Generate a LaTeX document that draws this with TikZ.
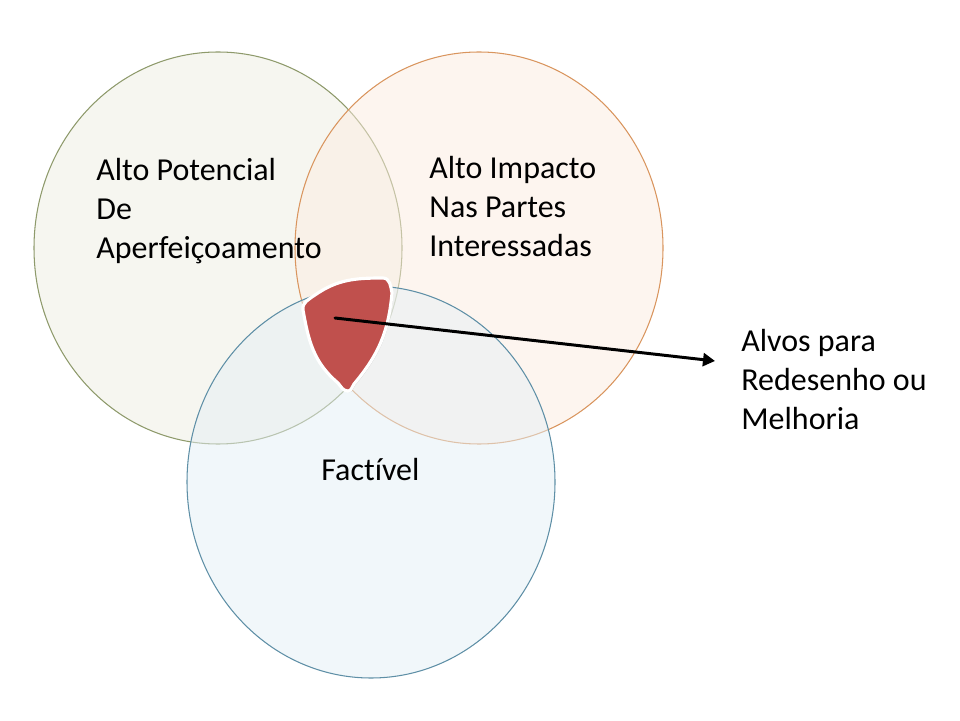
\documentclass[tikz,border=0pt]{standalone}
\usepackage{fontspec}
\setmainfont{Carlito}[Ligatures=NoCommon]
\usetikzlibrary{arrows.meta,shadows}
\definecolor{potline}{HTML}{8E9A6B}
\definecolor{potfill}{HTML}{EDEDE2}
\definecolor{impline}{HTML}{D9955E}
\definecolor{impfill}{HTML}{FCECE0}
\definecolor{facline}{HTML}{5E8FA6}
\definecolor{facfill}{HTML}{E4EFF5}
\definecolor{alvored}{HTML}{C0504D}

\begin{document}
\begin{tikzpicture}[>={Triangle[length=2.4mm,width=2.6mm]}, line cap=round, line join=round,
    venn/.style={line width=0.6pt, fill opacity=0.5},
    venntext/.style={align=left, anchor=base west, inner sep=0pt,
      font=\fontsize{18.2}{22.2}\selectfont}]
    % Page size of the slide
    \useasboundingbox (0,0) rectangle (19.2,14.4);

    % The three sets (slightly taller than wide)
    \draw[venn, draw=potline, fill=potfill] (4.36, 9.44) ellipse (3.68 and 3.92);
    \draw[venn, draw=impline, fill=impfill] (9.58, 9.44) ellipse (3.68 and 3.92);
    \draw[venn, draw=facline, fill=facfill] (7.42, 4.76) ellipse (3.68 and 3.92);

    % The common region, with a white rim
    \fill[alvored, draw=white, line width=1.8pt,
      drop shadow={shadow xshift=0.7pt, shadow yshift=-0.7pt, opacity=0.4}]
      (6.06, 8.20) to[out=100, in=215] (6.30, 8.50)
      to[out=35, in=180] (7.66, 8.84)
      to[out=0, in=100] (7.84, 8.54)
      to[out=265, in=50] (7.08, 6.72)
      to[out=230, in=0] (6.96, 6.58)
      to[out=180, in=310] (6.76, 6.74)
      to[out=140, in=280] (6.06, 8.20) -- cycle;

    % Labels of the sets (anchored on the last line)
    \node[venntext] (potencial) at (1.92, 9.22) {Alto Potencial\\De\\Aperfeiçoamento};
    \node[venntext] (impacto) at (8.58, 9.26) {Alto Impacto\\Nas Partes\\Interessadas};
    \node[venntext] (factivel) at (6.42, 4.80) {Factível};

    % Pointer out to the note on the right
    \node[venntext] (alvos) at (14.82, 5.80) {Alvos para\\Redesenho ou\\Melhoria};
    \coordinate (core) at (6.70, 8.04);
    \coordinate (tip) at (14.30, 7.18);
    \draw[->, line width=1.7pt] (core) -- (tip);

\end{tikzpicture}
\end{document}
